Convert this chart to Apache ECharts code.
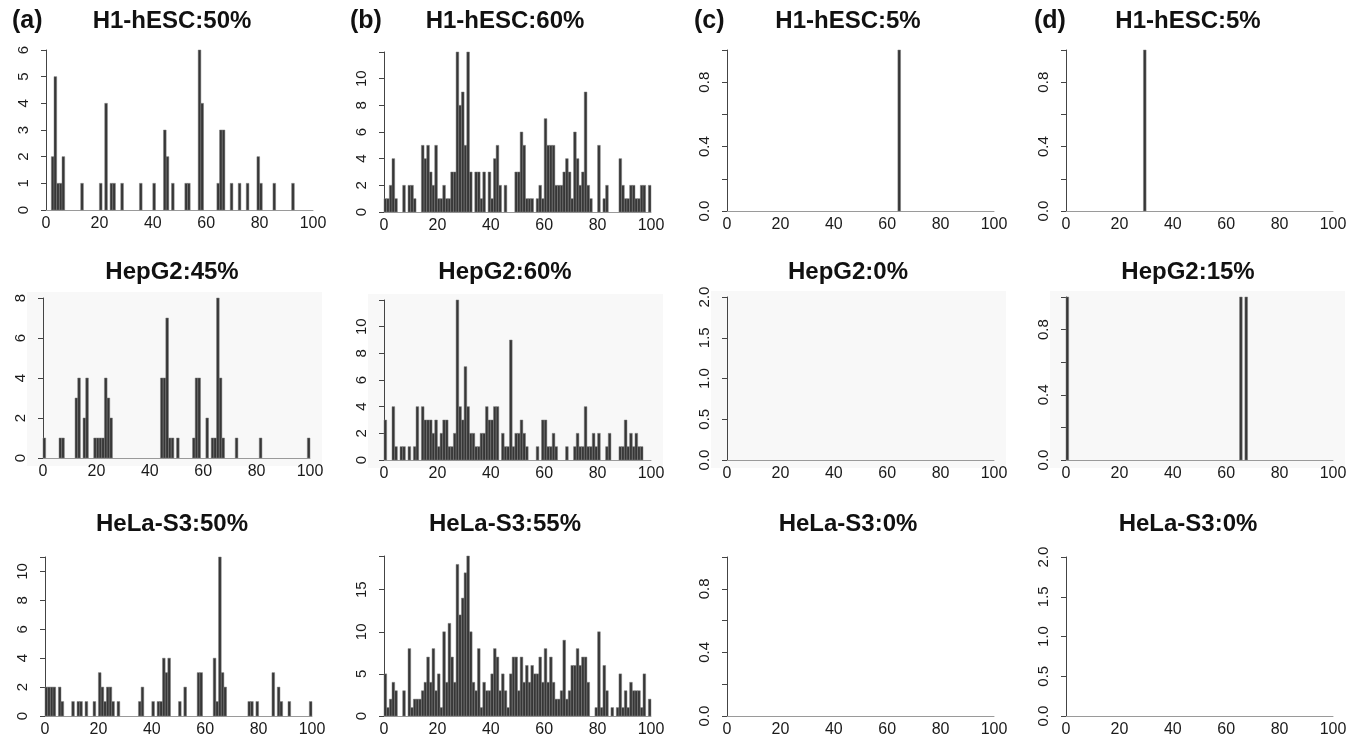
<!DOCTYPE html>
<html>
<head>
<meta charset="utf-8">
<title>Histograms</title>
<script src="https://cdn.jsdelivr.net/npm/echarts@6/dist/echarts.min.js"></script>
<style>
  html, body { margin: 0; padding: 0; background: #fff; }
  #main { width: 1358px; height: 737px; }
</style>
</head>
<body>
<div id="main"></div>
<script>
// counts per unit bin, bins 0..99 (20 per line)
var h1_50 = [
  0,0,2,5,1,1,2,0,0,0, 0,0,0,1,0,0,0,0,0,0,
  1,0,4,0,1,1,0,0,1,0, 0,0,0,0,0,1,0,0,0,0,
  1,0,0,0,3,2,0,1,0,0, 0,0,1,1,0,0,0,6,4,0,
  0,0,0,0,1,3,3,0,0,1, 0,0,1,0,0,1,0,0,0,2,
  1,0,0,0,0,1,0,0,0,0, 0,0,1,0,0,0,0,0,0,0
];
var hep_45 = [
  1,0,0,0,0,0,1,1,0,0, 0,0,3,4,0,2,4,0,0,1,
  1,1,1,4,3,2,0,0,0,0, 0,0,0,0,0,0,0,0,0,0,
  0,0,0,0,4,4,7,1,1,0, 1,0,0,0,0,0,1,4,4,0,
  0,2,0,1,1,8,4,1,0,0, 0,0,1,0,0,0,0,0,0,0,
  0,1,0,0,0,0,0,0,0,0, 0,0,0,0,0,0,0,0,0,1
];
var hela_50 = [
  2,2,2,2,0,2,1,0,0,0, 1,0,1,1,0,1,0,0,1,0,
  3,2,1,2,2,1,0,1,0,0, 0,0,0,0,0,1,2,0,0,0,
  1,0,1,1,4,3,4,0,0,0, 1,0,2,0,0,0,0,3,3,0,
  0,0,0,4,1,11,3,2,0,0, 0,0,0,0,0,0,1,1,0,1,
  0,0,0,0,0,3,0,2,1,0, 0,1,0,0,0,0,0,0,0,1
];
var h1_60 = [
  1,1,2,4,1,0,0,2,0,2, 2,1,0,0,5,4,5,3,2,5,
  1,1,2,1,1,3,3,12,8,9, 5,12,3,0,3,3,1,3,0,3,
  1,4,5,2,0,2,0,0,0,3, 3,6,5,1,1,1,0,1,2,1,
  7,5,5,5,2,2,2,3,4,3, 1,6,4,2,3,9,2,1,0,0,
  5,0,1,2,0,0,0,0,4,2, 1,1,2,2,1,1,2,2,0,2
];
var hep_60 = [
  3,0,0,4,1,0,1,1,0,1, 0,1,4,0,4,3,3,3,2,3,
  1,2,3,3,1,1,2,12,4,3, 7,4,2,2,1,1,2,2,4,3,
  3,4,4,0,2,1,1,9,1,2, 2,3,2,1,0,0,0,1,0,3,
  3,1,1,2,1,0,0,0,1,0, 0,1,2,1,1,4,1,1,2,1,
  2,0,0,1,2,0,0,0,1,1, 3,1,2,1,2,1,1,0,0,0
];
var hela_55 = [
  5,1,2,4,3,0,0,3,0,8, 1,2,2,2,3,4,7,4,8,3,
  5,1,10,4,11,7,4,18,12,14, 17,19,10,4,3,8,1,4,3,3,
  5,8,7,3,5,3,1,5,7,7, 3,7,4,6,4,6,5,5,7,4,
  8,4,7,4,2,2,3,9,2,3, 6,6,8,6,7,7,4,0,0,1,
  10,1,6,3,0,1,0,1,5,1, 3,1,4,3,3,3,1,5,0,2
];
var h1_5c = [
  0,0,0,0,0,0,0,0,0,0, 0,0,0,0,0,0,0,0,0,0,
  0,0,0,0,0,0,0,0,0,0, 0,0,0,0,0,0,0,0,0,0,
  0,0,0,0,0,0,0,0,0,0, 0,0,0,0,0,0,0,0,0,0,
  0,0,0,0,1,0,0,0,0,0, 0,0,0,0,0,0,0,0,0,0,
  0,0,0,0,0,0,0,0,0,0, 0,0,0,0,0,0,0,0,0,0
];
var hep_0 = [
  0,0,0,0,0,0,0,0,0,0, 0,0,0,0,0,0,0,0,0,0,
  0,0,0,0,0,0,0,0,0,0, 0,0,0,0,0,0,0,0,0,0,
  0,0,0,0,0,0,0,0,0,0, 0,0,0,0,0,0,0,0,0,0,
  0,0,0,0,0,0,0,0,0,0, 0,0,0,0,0,0,0,0,0,0,
  0,0,0,0,0,0,0,0,0,0, 0,0,0,0,0,0,0,0,0,0
];
var hela_0c = [
  0,0,0,0,0,0,0,0,0,0, 0,0,0,0,0,0,0,0,0,0,
  0,0,0,0,0,0,0,0,0,0, 0,0,0,0,0,0,0,0,0,0,
  0,0,0,0,0,0,0,0,0,0, 0,0,0,0,0,0,0,0,0,0,
  0,0,0,0,0,0,0,0,0,0, 0,0,0,0,0,0,0,0,0,0,
  0,0,0,0,0,0,0,0,0,0, 0,0,0,0,0,0,0,0,0,0
];
var h1_5d = [
  0,0,0,0,0,0,0,0,0,0, 0,0,0,0,0,0,0,0,0,0,
  0,0,0,0,0,0,0,0,0,1, 0,0,0,0,0,0,0,0,0,0,
  0,0,0,0,0,0,0,0,0,0, 0,0,0,0,0,0,0,0,0,0,
  0,0,0,0,0,0,0,0,0,0, 0,0,0,0,0,0,0,0,0,0,
  0,0,0,0,0,0,0,0,0,0, 0,0,0,0,0,0,0,0,0,0
];
var hep_15 = [
  1,0,0,0,0,0,0,0,0,0, 0,0,0,0,0,0,0,0,0,0,
  0,0,0,0,0,0,0,0,0,0, 0,0,0,0,0,0,0,0,0,0,
  0,0,0,0,0,0,0,0,0,0, 0,0,0,0,0,0,0,0,0,0,
  0,0,0,0,0,1,0,1,0,0, 0,0,0,0,0,0,0,0,0,0,
  0,0,0,0,0,0,0,0,0,0, 0,0,0,0,0,0,0,0,0,0
];
var hela_0d = [
  0,0,0,0,0,0,0,0,0,0, 0,0,0,0,0,0,0,0,0,0,
  0,0,0,0,0,0,0,0,0,0, 0,0,0,0,0,0,0,0,0,0,
  0,0,0,0,0,0,0,0,0,0, 0,0,0,0,0,0,0,0,0,0,
  0,0,0,0,0,0,0,0,0,0, 0,0,0,0,0,0,0,0,0,0,
  0,0,0,0,0,0,0,0,0,0, 0,0,0,0,0,0,0,0,0,0
];

var xTicks = [0, 20, 40, 60, 80, 100];
var letters = ['a', 'b', 'c', 'd'];

// panel layout: left = pixel of x=0, top = pixel of y max, h = plot height
var panels = [
  {col: 0, title: 'H1-hESC:50%',  data: h1_50,   max: 6,  step: 1,   labels: [0,1,2,3,4,5,6],    left: 46,   top: 50,  h: 160},
  {col: 0, title: 'HepG2:45%',    data: hep_45,  max: 8,  step: 2,   labels: [0,2,4,6,8],        left: 43,   top: 298, h: 160},
  {col: 0, title: 'HeLa-S3:50%',  data: hela_50, max: 11, step: 2,   labels: [0,2,4,6,8,10],     left: 45,   top: 557, h: 159},
  {col: 1, title: 'H1-hESC:60%',  data: h1_60,   max: 12, step: 2,   labels: [0,2,4,6,8,10],     left: 384,  top: 52,  h: 160},
  {col: 1, title: 'HepG2:60%',    data: hep_60,  max: 12, step: 2,   labels: [0,2,4,6,8,10],     left: 384,  top: 300, h: 160},
  {col: 1, title: 'HeLa-S3:55%',  data: hela_55, max: 19, step: 5,   labels: [0,5,10,15],        left: 384,  top: 556, h: 160},
  {col: 2, title: 'H1-hESC:5%',   data: h1_5c,   max: 1,  step: 0.2, labels: [0,0.4,0.8],        left: 727,  top: 50,  h: 161},
  {col: 2, title: 'HepG2:0%',     data: hep_0,   max: 2,  step: 0.5, labels: [0,0.5,1,1.5,2],    left: 727,  top: 297, h: 163},
  {col: 2, title: 'HeLa-S3:0%',   data: hela_0c, max: 1,  step: 0.2, labels: [0,0.4,0.8],        left: 727,  top: 557, h: 159},
  {col: 3, title: 'H1-hESC:5%',   data: h1_5d,   max: 1,  step: 0.2, labels: [0,0.4,0.8],        left: 1066, top: 50,  h: 161},
  {col: 3, title: 'HepG2:15%',    data: hep_15,  max: 1,  step: 0.2, labels: [0,0.4,0.8],        left: 1066, top: 297, h: 163},
  {col: 3, title: 'HeLa-S3:0%',   data: hela_0d, max: 2,  step: 0.5, labels: [0,0.5,1,1.5,2],    left: 1066, top: 557, h: 159}
];
var rowTitleY = [4, 255, 507];
var colTitleX = [167, 500, 843, 1183];
var colLetterX = [7, 345, 689, 1029];
var plotW = 267;

var myChart = echarts.init(document.getElementById('main'));

var grids = [], xAxes = [], yAxes = [], series = [], titles = [], graphics = [];

panels.forEach(function (p, k) {
  var row = k % 3;
  var decimals = p.step < 1;

  // light grey plot background in the middle row
  if (row === 1) {
    graphics.push({
      type: 'rect', silent: true, z: -10,
      shape: {x: p.left - 16, y: p.top - 6, width: plotW + 28, height: p.h + 14},
      style: {fill: '#f8f8f8'}
    });
  }

  grids.push({left: p.left, top: p.top, width: plotW, height: p.h, outerBoundsMode: 'none'});

  xAxes.push({
    gridIndex: k, type: 'value', min: 0, max: 100, interval: 20,
    axisLine: {lineStyle: {color: '#9a9a9a', width: 1}},
    axisTick: {show: false},
    splitLine: {show: false},
    axisLabel: {
      fontFamily: 'Liberation Sans', fontSize: 16, color: '#1a1a1a', margin: 6,
      formatter: function (v) { return xTicks.indexOf(v) >= 0 ? String(v) : ''; }
    }
  });

  yAxes.push({
    gridIndex: k, type: 'value', min: 0, max: p.max, interval: p.step, offset: 11,
    axisLine: {show: true, lineStyle: {color: '#444', width: 1}},
    axisTick: {show: true, length: 5, lineStyle: {color: '#444'}},
    splitLine: {show: false},
    axisLabel: {
      rotate: 90, fontFamily: 'Liberation Sans', fontSize: 15, color: '#1a1a1a', margin: 4,
      showMaxLabel: true,
      formatter: function (v) {
        var hit = p.labels.some(function (l) { return Math.abs(l - v) < 1e-6; });
        if (!hit) return '';
        return decimals ? v.toFixed(1) : String(Math.round(v));
      }
    }
  });

  series.push({
    type: 'custom', xAxisIndex: k, yAxisIndex: k, clip: false,
    data: p.data.map(function (v, i) { return [i, v]; }),
    encode: {x: 0, y: 1},
    renderItem: function (params, api) {
      var v = api.value(1);
      if (!v) return;
      var i = api.value(0);
      var a = api.coord([i, v]);
      var b = api.coord([i + 1, 0]);
      return {
        type: 'rect',
        shape: {x: a[0], y: a[1], width: b[0] - a[0], height: b[1] - a[1]},
        style: {fill: '#363636', stroke: '#7c7c7c', lineWidth: 0.5}
      };
    }
  });

  titles.push({
    text: p.title, left: colTitleX[p.col], top: rowTitleY[row], textAlign: 'center',
    textStyle: {fontFamily: 'Liberation Sans', fontSize: 24, fontWeight: 'bold', color: '#111'}
  });
});

letters.forEach(function (l, c) {
  titles.push({
    text: '{p|(}{b|' + l + '}{p|)}', left: colLetterX[c], top: rowTitleY[0],
    textStyle: {
      rich: {
        p: {fontFamily: 'Liberation Sans', fontSize: 25, color: '#111'},
        b: {fontFamily: 'Liberation Sans', fontSize: 25, fontWeight: 'bold', color: '#111'}
      }
    }
  });
});

var option = {
  backgroundColor: '#fff',
  animation: false,
  title: titles,
  grid: grids,
  xAxis: xAxes,
  yAxis: yAxes,
  series: series,
  graphic: graphics
};

myChart.setOption(option);
</script>
</body>
</html>
